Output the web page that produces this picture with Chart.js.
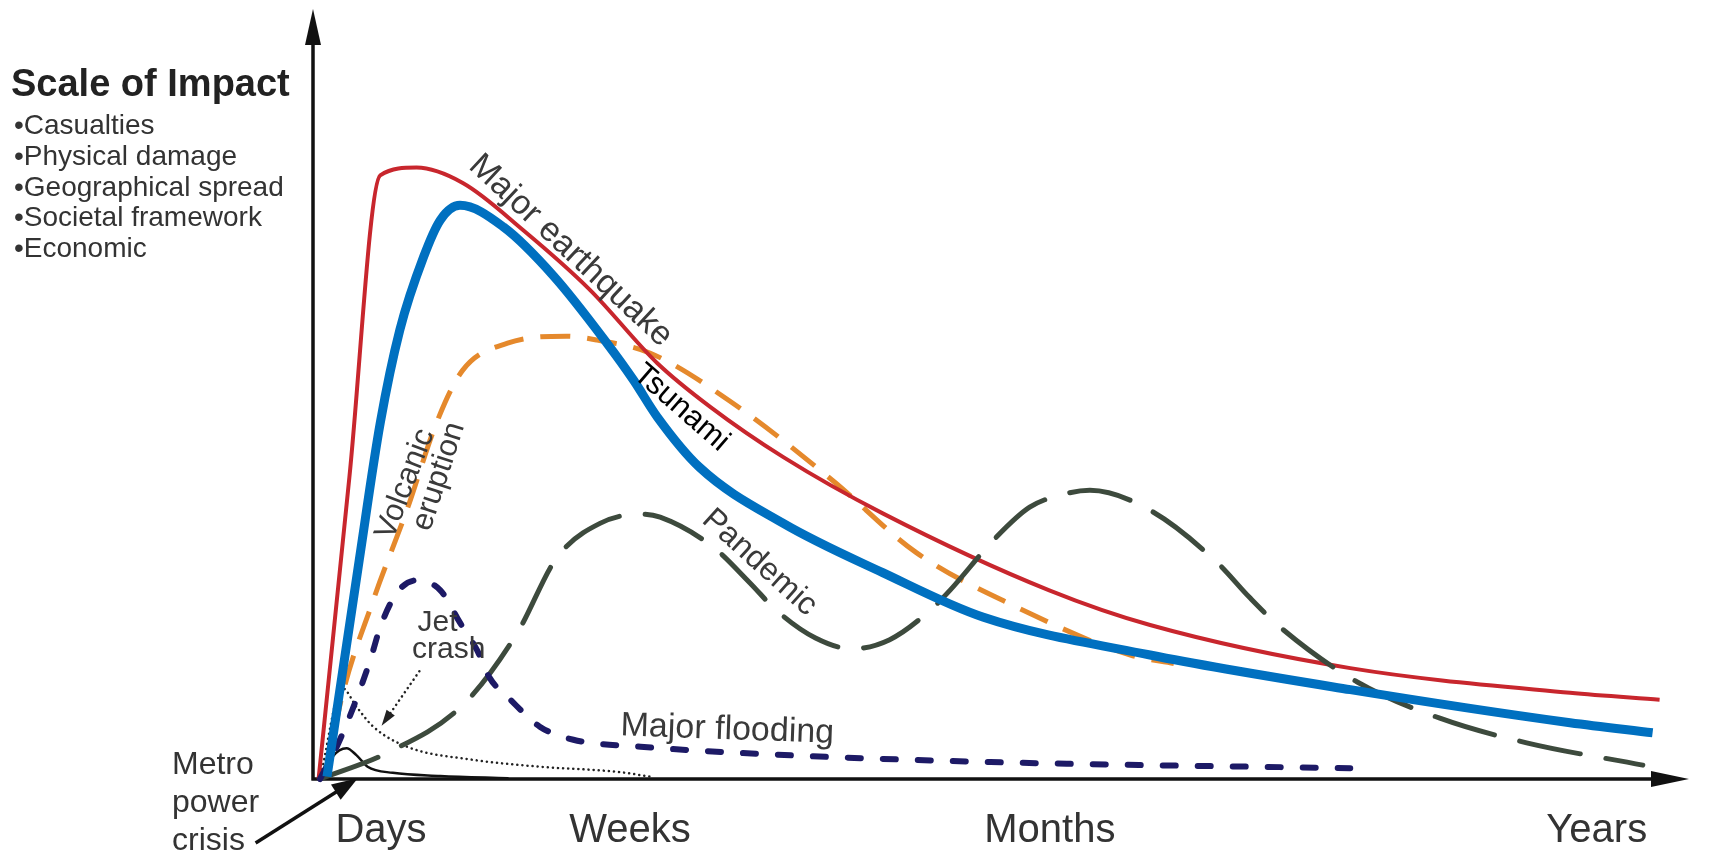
<!DOCTYPE html>
<html>
<head>
<meta charset="utf-8">
<title>Scale of Impact</title>
<script src="https://cdn.jsdelivr.net/npm/chart.js@4.4.1/dist/chart.umd.min.js"></script>
<style>
html, body { margin: 0; padding: 0; background: #fff; }
#wrap { width: 1723px; height: 853px; position: relative; }
</style>
</head>
<body>
<div id="wrap"><canvas id="impact-chart"></canvas></div>
<script>
// time axis (arbitrary units), impact axis (0-100)
var tickValues = [4.86, 22.64, 52.64, 91.71];
var tickNames = ["Days", "Weeks", "Months", "Years"];

var quakeX = [0.4, 2.6, 4.8, 7.4, 10.7, 15.0, 19.8, 24.6, 28.4, 33.6, 40.7, 52.6, 59.8, 74.1, 89.8, 96.2];
var quakeY = [0, 39.2, 78.4, 79.4, 77.4, 71.3, 63.5, 54.0, 48.3, 41.8, 34.5, 24.5, 20.0, 14.4, 11.2, 10.3];

var tsunamiX = [1.0, 3.3, 4.8, 6.2, 7.9, 9.1, 10.5, 13.6, 17.2, 21.0, 22.9, 24.6, 27.6, 33.6, 40.7, 47.9, 59.8, 74.1, 89.8, 95.7];
var tsunamiY = [0.3, 28.4, 46.2, 58.3, 67.8, 72.6, 74.5, 71.7, 65.3, 56.6, 51.8, 47.0, 40.5, 33.2, 26.8, 21.0, 16.1, 11.6, 7.3, 6.0];

var volcanoX = [1.0, 1.9, 4.3, 6.7, 8.9, 10.7, 13.9, 18.1, 20.3, 24.1, 30.0, 37.1, 43.1, 50.3, 58.4, 61.5];
var volcanoY = [0.3, 9.4, 23.2, 34.9, 46.6, 53.1, 56.6, 57.5, 57.0, 55.3, 48.8, 38.8, 29.4, 22.3, 16.1, 15.0];

var pandemicX = [0.5, 5.3, 10.7, 14.6, 17.4, 20.5, 23.4, 24.8, 28.6, 31.2, 33.1, 35.9, 38.5, 41.2, 43.9, 45.5, 48.6, 51.2, 53.9, 55.5, 59.8, 64.6, 66.9, 69.3, 74.6, 80.5, 86.7, 95.0];
var pandemicY = [0, 3.4, 9.6, 19.0, 28.7, 33.2, 34.4, 34.0, 30.1, 25.5, 21.9, 18.3, 16.9, 18.1, 21.6, 24.5, 31.0, 35.3, 37.1, 37.5, 34.9, 28.1, 23.6, 19.4, 12.6, 7.9, 4.7, 1.8];

var jetX = [0.5, 1.7, 2.9, 4.1, 4.8, 6.0, 7.4, 9.1, 10.5, 11.7, 12.6, 14.1, 16.2, 18.6, 23.4, 32.6, 48.4, 74.1];
var jetY = [0, 4.2, 9.4, 15.5, 19.7, 24.2, 25.8, 24.5, 20.3, 16.8, 13.2, 10.3, 6.8, 5.1, 4.2, 3.2, 2.2, 1.4];

var crashTailX = [0.5, 2.1, 3.1, 4.3, 6.7, 11.4, 16.2, 21.9, 24.1];
var crashTailY = [0, 11.8, 9.4, 6.8, 4.2, 2.5, 1.6, 0.9, 0.3];

var metroX = [0.6, 1.4, 2.4, 3.1, 3.9, 5.7, 9.1, 13.9];
var metroY = [0, 2.9, 4.0, 3.1, 1.6, 0.8, 0.4, 0.1];

var FONT = "'Liberation Sans', Arial, Helvetica, sans-serif";

function pts(xs, ys) {
    var out = [];
    for (var i = 0; i < xs.length; i++) {
        out.push({x: xs[i], y: ys[i]});
    }
    return out;
}

function series(label, xs, ys, color, width, dash, cap) {
    return {
        label: label,
        data: pts(xs, ys),
        borderColor: color,
        borderWidth: width,
        borderDash: dash || [],
        borderCapStyle: cap || "butt",
        borderJoinStyle: "round",
        cubicInterpolationMode: "monotone",
        pointRadius: 0,
        fill: false,
        clip: false
    };
}

// text on the curves, positions in axis units
var curveLabels = [
    {text: "Major earthquake", x: 18.4, y: 68.6, angle: 43, size: 34, color: "#3a3a3a"},
    {text: "Tsunami", x: 26.3, y: 48.2, angle: 41, size: 31, color: "#000"},
    {text: "Volcanic", x: 6.6, y: 38.3, angle: -69, size: 31, color: "#3a3a3a"},
    {text: "eruption", x: 9.0, y: 39.3, angle: -72, size: 31, color: "#3a3a3a"},
    {text: "Pandemic", x: 31.9, y: 28.1, angle: 42, size: 32, color: "#3a3a3a"},
    {text: "Major flooding", x: 29.6, y: 6.4, angle: 2, size: 34, color: "#3a3a3a"},
    {text: "Jet", x: 8.9, y: 20.3, angle: 0, size: 30, color: "#3a3a3a"},
    {text: "crash", x: 9.7, y: 16.8, angle: 0, size: 30, color: "#3a3a3a"}
];

var impactList = ["\u2022Casualties", "\u2022Physical damage", "\u2022Geographical spread", "\u2022Societal framework", "\u2022Economic"];
var metroLines = ["Metro", "power", "crisis"];

function arrowHead(ctx, x1, y1, x2, y2, len, half) {
    var a = Math.atan2(y2 - y1, x2 - x1);
    ctx.beginPath();
    ctx.moveTo(x2, y2);
    ctx.lineTo(x2 - len * Math.cos(a) + half * Math.sin(a), y2 - len * Math.sin(a) - half * Math.cos(a));
    ctx.lineTo(x2 - len * Math.cos(a) - half * Math.sin(a), y2 - len * Math.sin(a) + half * Math.cos(a));
    ctx.closePath();
    ctx.fill();
}

var sketchPlugin = {
    id: "sketch",
    beforeDatasetsDraw: function (chart) {
        var ctx = chart.ctx, a = chart.chartArea;
        ctx.save();
        ctx.strokeStyle = "#111";
        ctx.fillStyle = "#111";
        ctx.lineWidth = 3.5;
        ctx.beginPath();
        ctx.moveTo(a.left, a.bottom + 1.5);
        ctx.lineTo(a.left, a.top + 30);
        ctx.moveTo(a.left - 1.5, a.bottom);
        ctx.lineTo(a.right - 30, a.bottom);
        ctx.stroke();
        arrowHead(ctx, a.left, a.bottom, a.left, a.top, 36, 8);
        arrowHead(ctx, a.left, a.bottom, a.right, a.bottom, 38, 8);
        ctx.restore();
    },
    afterDatasetsDraw: function (chart) {
        var ctx = chart.ctx;
        var xs = chart.scales.x, ys = chart.scales.y;
        ctx.save();

        curveLabels.forEach(function (l) {
            ctx.save();
            ctx.translate(xs.getPixelForValue(l.x), ys.getPixelForValue(l.y));
            ctx.rotate(l.angle * Math.PI / 180);
            ctx.font = l.size + "px " + FONT;
            ctx.fillStyle = l.color;
            ctx.textAlign = "center";
            ctx.textBaseline = "middle";
            ctx.fillText(l.text, 0, 0);
            ctx.restore();
        });

        // dotted pointer from "crash" to its tail
        var jx1 = xs.getPixelForValue(7.6), jy1 = ys.getPixelForValue(14.0);
        var jx2 = xs.getPixelForValue(4.9), jy2 = ys.getPixelForValue(6.9);
        ctx.strokeStyle = "#222";
        ctx.fillStyle = "#222";
        ctx.lineWidth = 2.5;
        ctx.lineCap = "round";
        ctx.setLineDash([0.1, 5]);
        ctx.beginPath();
        ctx.moveTo(jx1, jy1);
        ctx.lineTo(jx2 + (jx1 - jx2) * 0.2, jy2 + (jy1 - jy2) * 0.2);
        ctx.stroke();
        ctx.setLineDash([]);
        arrowHead(ctx, jx1, jy1, jx2, jy2, 16, 5);

        // Metro power crisis arrow
        var mx1 = xs.getPixelForValue(-4.1), my1 = ys.getPixelForValue(-8.3);
        var mx2 = xs.getPixelForValue(3.2), my2 = ys.getPixelForValue(0.1);
        ctx.strokeStyle = "#111";
        ctx.fillStyle = "#111";
        ctx.lineWidth = 3.5;
        ctx.lineCap = "butt";
        ctx.beginPath();
        ctx.moveTo(mx1, my1);
        ctx.lineTo(mx1 + (mx2 - mx1) * 0.8, my1 + (my2 - my1) * 0.8);
        ctx.stroke();
        arrowHead(ctx, mx1, my1, mx2, my2, 26, 9);

        ctx.fillStyle = "#333";
        ctx.textAlign = "left";
        ctx.textBaseline = "alphabetic";
        ctx.font = "32px " + FONT;
        metroLines.forEach(function (t, i) {
            ctx.fillText(t, 172, 774 + i * 38);
        });

        // y-axis description block
        ctx.fillStyle = "#222";
        ctx.font = "bold 38px " + FONT;
        ctx.fillText("Scale of Impact", 11, 96);
        ctx.fillStyle = "#333";
        ctx.font = "28px " + FONT;
        impactList.forEach(function (t, i) {
            ctx.fillText(t, 14, 134 + i * 30.8);
        });
        ctx.restore();
    }
};

var ctx = document.getElementById("impact-chart");
var impactChart = new Chart(ctx, {
    type: "line",
    data: {
        datasets: [
            series("Tsunami", tsunamiX, tsunamiY, "#0070c0", 9, [], "butt"),
            series("Jet crash / Major flooding", jetX, jetY, "#1d1a66", 6, [13, 22], "round"),
            series("Pandemic", pandemicX, pandemicY, "#3d4a3d", 5, [62, 26], "round"),
            series("Major earthquake", quakeX, quakeY, "#c8262d", 4, [], "butt"),
            series("Volcanic eruption", volcanoX, volcanoY, "#e5892c", 5, [30, 17], "butt"),
            series("Jet crash tail", crashTailX, crashTailY, "#222", 2.5, [0.1, 5], "round"),
            series("Metro power crisis", metroX, metroY, "#111", 2.5, [], "round")
        ]
    },
    options: {
        responsive: true,
        maintainAspectRatio: false,
        animation: false,
        layout: {padding: {left: 313, right: 34, top: 9, bottom: 0}},
        plugins: {
            legend: {display: false},
            tooltip: {enabled: false}
        },
        scales: {
            x: {
                type: "linear",
                min: 0,
                max: 98.3,
                grid: {display: false, drawTicks: false},
                border: {display: false},
                afterBuildTicks: function (axis) {
                    axis.ticks = tickValues.map(function (v) { return {value: v}; });
                },
                afterFit: function (axis) {
                    axis.height = 74;
                },
                ticks: {
                    autoSkip: false,
                    maxRotation: 0,
                    padding: 32,
                    color: "#333",
                    font: {family: FONT, size: 40, lineHeight: 1.0},
                    callback: function (v, i) { return tickNames[i]; }
                }
            },
            y: {
                type: "linear",
                min: 0,
                max: 100,
                display: false
            }
        }
    },
    plugins: [sketchPlugin]
});
</script>
</body>
</html>
